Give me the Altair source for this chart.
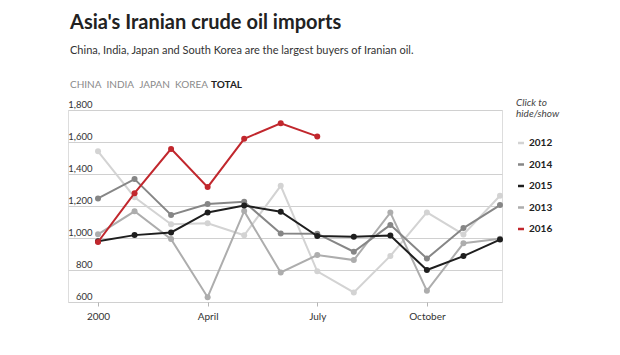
import altair as alt
import pandas as pd

months = list(range(1, 13))
years = ["2012", "2013", "2014", "2015", "2016"]
imports_2012 = [1542, 1255, 1086, 1092, 1017, 1326, 792, 660, 888, 1160, 1022, 1264]
imports_2013 = [1023, 1167, 993, 630, 1168, 785, 893, 862, 1159, 670, 967, 996]
imports_2014 = [1247, 1368, 1144, 1212, 1226, 1028, 1027, 914, 1082, 872, 1062, 1206]
imports_2015 = [980, 1018, 1035, 1160, 1203, 1164, 1012, 1008, 1015, 800, 887, 990]
imports_2016 = [975, 1280, 1557, 1318, 1620, 1717, 1635]

legend_order = ["2012", "2014", "2015", "2013", "2016"]
legend_colors = ["#d3d3d3", "#868686", "#1e1e1e", "#adadad", "#c1272d"]
x_tick_values = [1, 4, 7, 10]
x_tick_labels = ["2000", "April", "July", "October"]
y_tick_values = [600, 800, 1000, 1200, 1400, 1600, 1800]
toggles_grey = "\u2002".join(["CHINA", "INDIA", "JAPAN", "KOREA"])
toggle_active = "TOTAL"

series = {
    "2012": imports_2012,
    "2013": imports_2013,
    "2014": imports_2014,
    "2015": imports_2015,
    "2016": imports_2016,
}
rows = []
for yr in years:
    for m, v in zip(months, series[yr]):
        rows.append({"month": m, "value": v, "year": yr})
df = pd.DataFrame(rows)

label_expr = " : ".join(
    f"datum.value == {v} ? '{t}'" for v, t in zip(x_tick_values, x_tick_labels)
) + " : ''"

FONT = "Lato"

x_enc = alt.X(
    "month:Q",
    scale=alt.Scale(domain=[0.179, 12.055], nice=False, zero=False),
    axis=alt.Axis(
        values=x_tick_values, labelExpr=label_expr, title=None, domain=False,
        grid=False, ticks=True, tickSize=4, tickColor="#b5b5b5",
        labelPadding=5, labelFontSize=10, labelColor="#333", labelFont=FONT,
    ),
)
y_enc = alt.Y(
    "value:Q",
    scale=alt.Scale(domain=[600, 1800], nice=False, zero=False),
    axis=alt.Axis(
        values=y_tick_values, format=",.0f", title=None, domain=False, ticks=False,
        grid=True, gridColor="#d0d0d0", gridWidth=1,
        labelAlign="right", labelPadding=-24, labelBaseline="alphabetic",
        labelOffset=-3, labelFontSize=9.5, labelColor="#333", labelFont=FONT,
    ),
)
color_enc = alt.Color(
    "year:N",
    scale=alt.Scale(domain=legend_order, range=legend_colors),
    legend=alt.Legend(
        title=["Click to", "hide/show"], orient="none", legendX=448, legendY=-12,
        titleFont=FONT, titleFontStyle="italic", titleFontWeight="normal",
        titleFontSize=10, titleColor="#444", titleLineHeight=11, titlePadding=19,
        labelFont=FONT, labelFontWeight="bold", labelFontSize=10, labelColor="#222",
        symbolType="stroke", symbolSize=36, symbolStrokeWidth=2.5,
        rowPadding=11.5, labelOffset=3,
    ),
)

layers = []
for yr in years:
    sub = alt.Chart(df).transform_filter(alt.datum.year == yr)
    layers.append(sub.mark_line(strokeWidth=2).encode(x=x_enc, y=y_enc, color=color_enc))
    layers.append(sub.mark_circle(size=36, opacity=1).encode(x=x_enc, y=y_enc, color=color_enc))

toggle_a = alt.Chart(pd.DataFrame({"t": [toggles_grey]})).mark_text(
    font=FONT, fontSize=10, color="#8a8a8a", align="left", baseline="alphabetic"
).encode(text="t:N", x=alt.value(2), y=alt.value(-22))
toggle_b = alt.Chart(pd.DataFrame({"t": [toggle_active]})).mark_text(
    font=FONT, fontSize=10, fontWeight="bold", color="#222", align="left",
    baseline="alphabetic"
).encode(text="t:N", x=alt.value(143), y=alt.value(-22))

chart = alt.layer(*layers, toggle_a, toggle_b).properties(
    width=434,
    height=192,
    autosize=alt.AutoSizeParams(type="none"),
    padding={"left": 68, "top": 110, "right": 118, "bottom": 53},
    title=alt.TitleParams(
        text="Asia's Iranian crude oil imports",
        subtitle="China, India, Japan and South Korea are the largest buyers of Iranian oil.",
        anchor="start", frame="group", orient="top",
        font=FONT, fontSize=20, fontWeight="bold", color="#222",
        subtitleFont=FONT, subtitleFontSize=11, subtitleColor="#333",
        subtitlePadding=12, offset=24, dx=2,
    ),
).configure_view(stroke=None).configure(background="white")

chart.save("out.html", embed_options={"renderer": "svg", "actions": False})
